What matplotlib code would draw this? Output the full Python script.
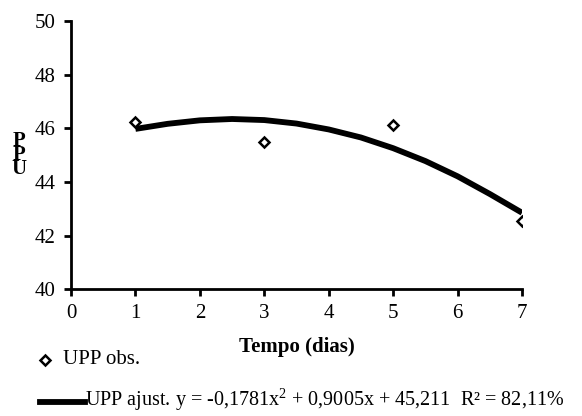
import matplotlib
matplotlib.use("Agg")
import matplotlib.pyplot as plt
from matplotlib.lines import Line2D

plt.rcParams['font.family'] = ['Liberation Serif', 'DejaVu Serif']
plt.rcParams['mathtext.fontset'] = 'custom'
plt.rcParams['mathtext.rm'] = 'Liberation Serif'

# observed values
dias_obs = [1, 3, 5, 7]
upp_obs = [46.25, 45.48, 46.12, 42.54]

# fitted curve
dias_fit = [1, 1.5, 2, 2.5, 3, 3.5, 4, 4.5, 5, 5.5, 6, 6.5, 7]
upp_fit = [45.98, 46.17, 46.30, 46.35, 46.31, 46.18, 45.96, 45.66, 45.26, 44.78, 44.21, 43.55, 42.85]

xticks = [0, 1, 2, 3, 4, 5, 6, 7]
yticks = [40, 42, 44, 46, 48, 50]

fs = 15

fig = plt.figure(figsize=(5.82, 4.16), dpi=100)
ax = fig.add_axes([0.122, 0.305, 0.775, 0.644])

ax.plot(dias_fit, upp_fit, color='black', lw=4.2, solid_capstyle='butt', zorder=2)
ax.plot(dias_obs, upp_obs, linestyle='none', marker='D', markersize=5,
        markerfacecolor='white', markeredgecolor='black', markeredgewidth=1.8, zorder=3)

ax.set_xlim(0, 7)
ax.set_ylim(40, 50)
ax.set_xticks(xticks)
ax.set_yticks(yticks)
ax.tick_params(labelsize=fs, width=2, length=5, direction='out', pad=6)
ax.spines['top'].set_visible(False)
ax.spines['right'].set_visible(False)
ax.spines['left'].set_linewidth(2)
ax.spines['bottom'].set_linewidth(2)

ax.set_xlabel('Tempo (dias)', fontsize=fs, fontweight='bold', labelpad=10)

# stacked y label
fig.text(0.032, 0.627, 'P\nP\nU', fontsize=fs, fontweight='bold', ha='center', va='center',
         linespacing=0.6)

# legend drawn by hand
fig.add_artist(Line2D([0.077], [0.135], marker='D', markersize=5, markerfacecolor='white',
                      markeredgecolor='black', markeredgewidth=1.8, linestyle='none',
                      transform=fig.transFigure))
fig.text(0.108, 0.135, 'UPP obs.', fontsize=fs, va='center', ha='left')
fig.add_artist(Line2D([0.068, 0.146], [0.033, 0.033], color='black', lw=4.2,
                      transform=fig.transFigure))
fig.text(0.146, 0.024, 'UPP ajust. y = -0,1781x$^2$ + 0,9005x + 45,211  R² = 82,11%',
         fontsize=14.5, va='baseline', ha='left')

fig.savefig('out.png', dpi=100)
